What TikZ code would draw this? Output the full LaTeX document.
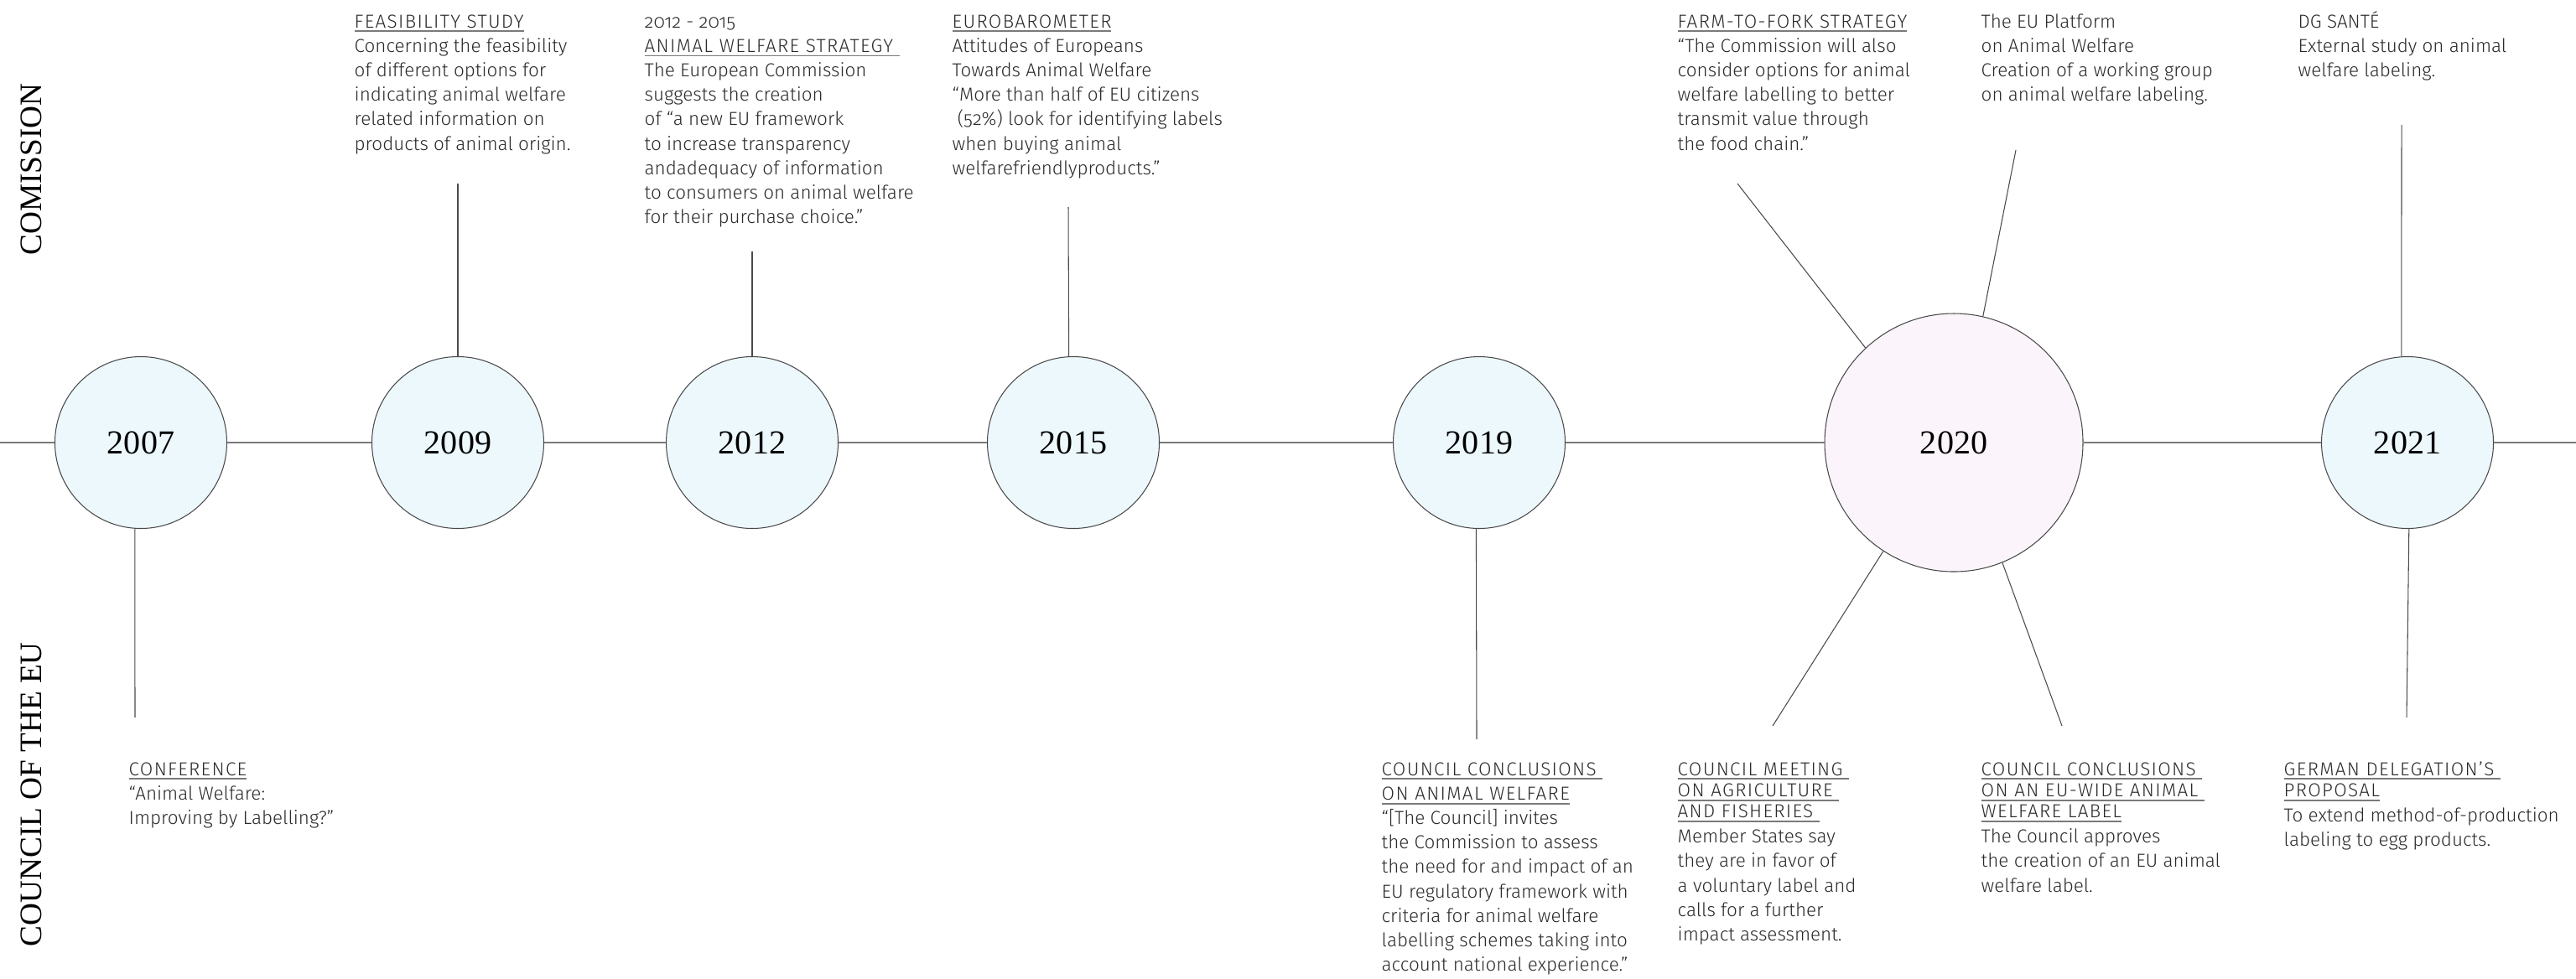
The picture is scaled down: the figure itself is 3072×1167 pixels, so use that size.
\documentclass[tikz,border=0pt]{standalone}
\usepackage{fontspec}
\setmainfont{Fira Sans Light}[Numbers=OldStyle]
\newfontfamily\yearfont{Liberation Serif}
\usetikzlibrary{calc}

\definecolor{textgray}{HTML}{2A2A2A}
\definecolor{linegray}{HTML}{7A7A7A}
\definecolor{ringgray}{HTML}{4A4A4A}
\definecolor{yearblue}{HTML}{EDF8FD}
\definecolor{yearpink}{HTML}{FBF5FB}

% underlined heading line
\newsavebox{\hdbox}
\newcommand{\hd}[1]{\sbox{\hdbox}{\addfontfeatures{LetterSpace=6}#1}%
  \rlap{\color{linegray}\rule[-1.5pt]{\wd\hdbox}{0.55pt}}\usebox{\hdbox}}
% text block, baseline on its first line
\newcommand{\blk}[1]{\begin{tabular}[t]{@{}l@{}}#1\end{tabular}}

\tikzset{
  year/.style={circle, draw=ringgray, line width=0.3pt, fill=yearblue,
    minimum size=20.5mm, inner sep=0pt, font=\yearfont\fontsize{11.4}{12}\selectfont},
  bigyear/.style={year, fill=yearpink, minimum size=30.8mm},
  note/.style={anchor=base west, inner sep=0pt, text=textgray,
    font=\fontsize{6.38}{8.31}\selectfont},
  side/.style={anchor=base west, rotate=90, inner sep=0pt,
    font=\yearfont\fontsize{10.6}{12}\selectfont},
  timeline/.style={draw=linegray, line width=0.55pt},
  stem/.style={draw=ringgray, line width=0.3pt}
}

\begin{document}
\begin{tikzpicture}[x=0.1mm, y=-0.1mm]
	\fill[white] (0,0) rectangle (3072,1167);
	\useasboundingbox (0,0) rectangle (3072,1167);
	
	\def\ty{528} % timeline height
	\def\tb{33} % first baseline, top notes
	\def\bb{925} % first baseline, bottom notes
	
	% side labels
	\node[side] (comission) at (49,305) {COMISSION};
	\node[side] (council) at (49,1130) {COUNCIL OF THE EU};
	
	% years
	\node[year] (y2007) at (168,\ty) {2007};
	\node[year] (y2009) at (546,\ty) {2009};
	\node[year] (y2012) at (897,\ty) {2012};
	\node[year] (y2015) at (1280,\ty) {2015};
	\node[year] (y2019) at (1764,\ty) {2019};
	\node[bigyear] (y2020) at (2330,\ty) {2020};
	\node[year] (y2021) at (2871,\ty) {2021};
	
	% timeline
	\coordinate (tl-start) at (0,\ty);
	\coordinate (tl-end) at (3072,\ty);
	\foreach \a/\b in {tl-start/y2007, y2007/y2009, y2009/y2012, y2012/y2015,
	    y2015/y2019, y2019/y2020, y2020/y2021, y2021/tl-end}
	  \draw[timeline] (\a) -- (\b);
	
	% free ends of the stems
	\coordinate (c2007) at (161,856);
	\coordinate (c2009) at (546,219);
	\coordinate (c2012) at (897,300);
	\coordinate (c2015) at (1274,247);
	\coordinate (c2019) at (1761,882);
	\coordinate (c2020a) at (2072,219);
	\coordinate (c2020b) at (2404,179);
	\coordinate (c2020c) at (2114,866);
	\coordinate (c2020d) at (2459,866);
	\coordinate (c2021a) at (2864,149);
	\coordinate (c2021b) at (2870,856);
	
	% stems
	\draw[stem] (y2007.266) -- (c2007);
	\draw[stem] (y2009.north) -- (c2009);
	\draw[stem] (y2012.north) -- (c2012);
	\draw[stem] (y2015.93) -- (c2015);
	\draw[stem] (y2019.268) -- (c2019);
	\draw[stem] (y2020.133) -- (c2020a);
	\draw[stem] (y2020.77) -- (c2020b);
	\draw[stem] (y2020.237) -- (c2020c);
	\draw[stem] (y2020.292) -- (c2020d);
	\draw[stem] (y2021.94) -- (c2021a);
	\draw[stem] (y2021.271) -- (c2021b);
	
	% commission notes
	\node[note] (feasibility) at (422,\tb) {\blk{\hd{FEASIBILITY STUDY}\\
	  Concerning the feasibility\\ of different options for\\
	  indicating animal welfare\\ related information on\\
	  products of animal origin.}};
	\node[note] (strategy) at (768,\tb) {\blk{2012 - 2015\\
	  \hd{ANIMAL WELFARE STRATEGY\ }\\ The European Commission\\
	  suggests the creation\\ of “a new EU framework\\
	  to increase transparency\\ andadequacy of information\\
	  to consumers on animal welfare\\ for their purchase choice.”}};
	\node[note] (eurobarometer) at (1135,\tb) {\blk{\hd{EUROBAROMETER}\\
	  Attitudes of Europeans\\ Towards Animal Welfare\\
	  “More than half of EU citizens\\ \ (52\%) look for identifying labels\\
	  when buying animal\\ welfarefriendlyproducts.”}};
	\node[note] (farmfork) at (2000,\tb) {\blk{\hd{FARM-TO-FORK STRATEGY}\\
	  “The Commission will also\\ consider options for animal\\
	  welfare labelling to better\\ transmit value through\\
	  the food chain.”}};
	\node[note] (platform) at (2362,\tb) {\blk{The EU Platform\\
	  on Animal Welfare\\ Creation of a working group\\
	  on animal welfare labeling.}};
	\node[note] (sante) at (2740,\tb) {\blk{DG SANTÉ\\
	  External study on animal\\ welfare labeling.}};
	
	% council notes
	\node[note] (conference) at (153,\bb) {\blk{\hd{CONFERENCE}\\
	  “Animal Welfare:\\ Improving by Labelling?”}};
	\node[note] (conclusions) at (1647,\bb) {\blk{\hd{COUNCIL CONCLUSIONS\ }\\
	  \hd{ON ANIMAL WELFARE}\\ “[The Council] invites\\
	  the Commission to assess\\ the need for and impact of an\\
	  EU regulatory framework with\\ criteria for animal welfare\\
	  labelling schemes taking into\\ account national experience.”}};
	\node[note] (meeting) at (2000,\bb) {\blk{\hd{COUNCIL MEETING\ }\\[-1.1pt]
	  \hd{ON AGRICULTURE\ }\\[-1.1pt] \hd{AND FISHERIES\ }\\[0.2pt]
	  Member States say\\ they are in favor of\\ a voluntary label and\\
	  calls for a further\\ impact assessment.}};
	\node[note] (label) at (2362,\bb) {\blk{\hd{COUNCIL CONCLUSIONS\ }\\[-1.1pt]
	  \hd{ON AN EU-WIDE ANIMAL\ }\\[-1.1pt] \hd{WELFARE LABEL}\\[0.2pt]
	  The Council approves\\ the creation of an EU animal\\ welfare label.}};
	\node[note] (german) at (2723,\bb) {\blk{\hd{GERMAN DELEGATION’S\ }\\[-1.1pt]
	  \hd{PROPOSAL}\\[0.2pt]
	  To extend method-of-production\\ labeling to egg products.}};
\end{tikzpicture}
\end{document}
